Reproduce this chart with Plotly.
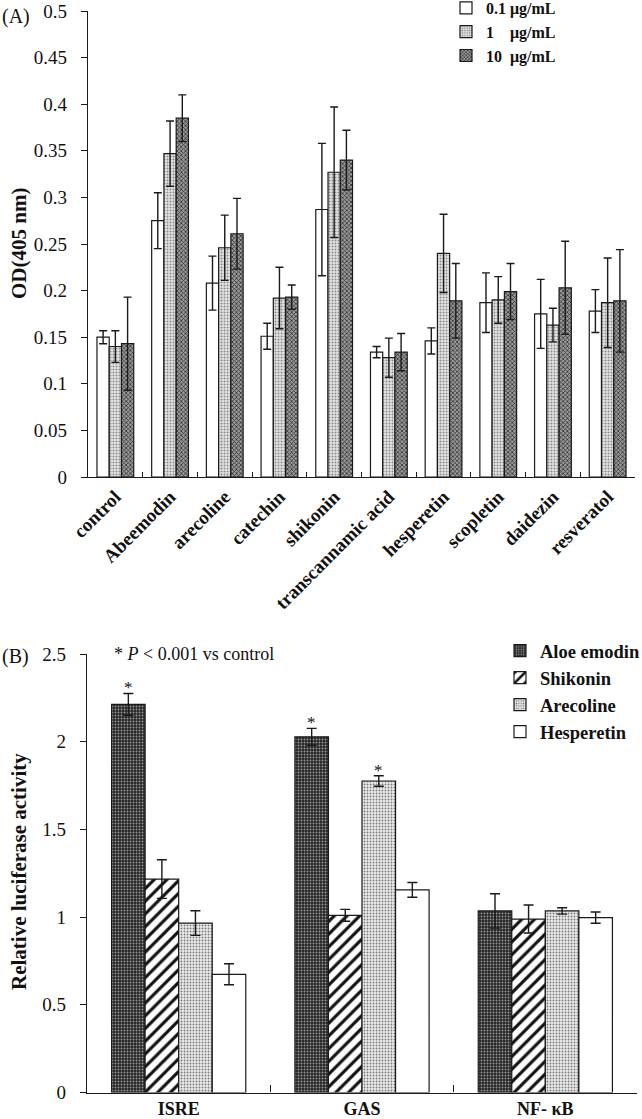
import plotly.graph_objects as go

# ---------------- Panel A data ----------------
categories_a = ["control", "Abeemodin", "arecoline", "catechin", "shikonin",
                "transcannamic acid", "hesperetin", "scopletin", "daidezin", "resveratol"]
dose_names = ["0.1 μg/mL", "1    μg/mL", "10  μg/mL"]
od_01 = [0.150, 0.275, 0.208, 0.151, 0.287, 0.134, 0.146, 0.187, 0.175, 0.178]
err_01 = [0.007, 0.030, 0.029, 0.014, 0.071, 0.006, 0.014, 0.032, 0.037, 0.023]
od_1 = [0.140, 0.347, 0.246, 0.192, 0.327, 0.128, 0.240, 0.190, 0.163, 0.187]
err_1 = [0.017, 0.035, 0.035, 0.033, 0.070, 0.021, 0.042, 0.025, 0.018, 0.048]
od_10 = [0.143, 0.385, 0.261, 0.193, 0.340, 0.134, 0.189, 0.199, 0.203, 0.189]
err_10 = [0.050, 0.025, 0.038, 0.013, 0.032, 0.020, 0.040, 0.030, 0.050, 0.055]

# ---------------- Panel B data ----------------
categories_b = ["ISRE", "GAS", "NF- κB"]
compound_names = ["Aloe emodin", "Shikonin", "Arecoline", "Hesperetin"]
luc_aloe = [2.213, 2.028, 1.035]
err_aloe = [0.062, 0.048, 0.098]
luc_shik = [1.217, 1.010, 0.989]
err_shik = [0.110, 0.034, 0.080]
luc_arec = [0.966, 1.776, 1.035]
err_arec = [0.070, 0.030, 0.018]
luc_hesp = [0.674, 1.155, 0.997]
err_hesp = [0.060, 0.042, 0.032]
# significant marks: (category index, compound index)
sig_marks = [(0, 0), (1, 0), (1, 2)]

W, H = 642, 1119
FONT = "Liberation Serif"
LINE = "#1a1a1a"


def px_x(p):
    return p / W


def px_y(p):
    return 1 - p / H


fig = go.Figure()

# ---- Panel A bars ----
a_vals = [od_01, od_1, od_10]
a_errs = [err_01, err_1, err_10]
a_styles = [
    dict(color="white"),
    dict(color="#d6d6d6", pattern=dict(shape=".", fgcolor="#8a8a8a", bgcolor="#e4e4e4", size=3, solidity=0.35)),
    dict(color="#5e5e5e", pattern=dict(shape="x", fgcolor="#2e2e2e", bgcolor="#9a9a9a", size=3, solidity=0.45)),
]
wa = 0.224
offs_a = [-1.5 * wa, -0.5 * wa, 0.5 * wa]
for i in range(3):
    m = dict(a_styles[i])
    m["line"] = dict(color=LINE, width=1.2)
    fig.add_trace(go.Bar(
        x=categories_a, y=a_vals[i], name=dose_names[i],
        xaxis="x", yaxis="y", width=wa, offset=offs_a[i],
        marker=m, legend="legend",
        error_y=dict(type="data", array=a_errs[i], visible=True,
                     color=LINE, thickness=1.4, width=4),
    ))

# ---- Panel B bars ----
b_vals = [luc_aloe, luc_shik, luc_arec, luc_hesp]
b_errs = [err_aloe, err_shik, err_arec, err_hesp]
b_styles = [
    dict(color="#2a2a2a", pattern=dict(shape=".", fgcolor="#9a9a9a", bgcolor="#262626", size=3, solidity=0.3)),
    dict(color="white", pattern=dict(shape="/", fgcolor="#111111", bgcolor="white", size=9, solidity=0.35)),
    dict(color="#d8d8d8", pattern=dict(shape=".", fgcolor="#7a7a7a", bgcolor="#ebebeb", size=3, solidity=0.3)),
    dict(color="white"),
]
wb = 0.183
offs_b = [-2 * wb, -wb, 0, wb]
for i in range(4):
    m = dict(b_styles[i])
    m["line"] = dict(color=LINE, width=1.2)
    fig.add_trace(go.Bar(
        x=categories_b, y=b_vals[i], name=compound_names[i],
        xaxis="x2", yaxis="y2", width=wb, offset=offs_b[i],
        marker=m, legend="legend2",
        error_y=dict(type="data", array=b_errs[i], visible=True,
                     color=LINE, thickness=1.4, width=5),
    ))

annotations = []
for (g, s) in sig_marks:
    annotations.append(dict(
        x=g + offs_b[s] + wb / 2, y=b_vals[s][g] + b_errs[s][g],
        xref="x2", yref="y2", text="*", showarrow=False,
        yanchor="bottom", yshift=-6,
        font=dict(family=FONT, size=17, color="#111"),
    ))

annotations += [
    dict(x=px_x(0), y=px_y(16), xref="paper", yref="paper", text="(A)",
         showarrow=False, xanchor="left", yanchor="middle",
         font=dict(family=FONT, size=20, color="#111")),
    dict(x=px_x(0), y=px_y(656), xref="paper", yref="paper", text="(B)",
         showarrow=False, xanchor="left", yanchor="middle",
         font=dict(family=FONT, size=20, color="#111")),
    dict(x=px_x(112), y=px_y(654), xref="paper", yref="paper",
         text="* <i>P</i> &lt; 0.001 vs control",
         showarrow=False, xanchor="left", yanchor="middle",
         font=dict(family=FONT, size=18, color="#111")),
    dict(x=px_x(19), y=px_y(244), xref="paper", yref="paper",
         text="<b>OD(405 nm)</b>", textangle=-90,
         showarrow=False, xanchor="center", yanchor="middle",
         font=dict(family=FONT, size=21, color="#111")),
    dict(x=px_x(19), y=px_y(872), xref="paper", yref="paper",
         text="<b>Relative luciferase activity</b>", textangle=-90,
         showarrow=False, xanchor="center", yanchor="middle",
         font=dict(family=FONT, size=21, color="#111")),
]

axis_common = dict(showline=True, linecolor=LINE, linewidth=1.4,
                   showgrid=False, zeroline=False, automargin=False)
tickfont = dict(family=FONT, size=19, color="#111")

fig.update_layout(
    template="none",
    width=W, height=H,
    margin=dict(l=0, r=0, t=0, b=0, autoexpand=False),
    paper_bgcolor="white", plot_bgcolor="white",
    barmode="overlay",
    annotations=annotations,
    xaxis=dict(**axis_common, domain=[px_x(88), px_x(635)], anchor="y",
               type="category", tickson="boundaries", ticks="inside",
               ticklen=5, tickwidth=1.2, tickcolor=LINE, tickangle=-45,
               tickfont=dict(family=FONT, size=19, color="#111", weight="bold")),
    yaxis=dict(**axis_common, domain=[px_y(477), px_y(11)], anchor="x",
               range=[0, 0.5], tick0=0, dtick=0.05, ticks="outside",
               ticklen=6, tickwidth=1.2, tickcolor=LINE, tickfont=tickfont,
               ticklabelstandoff=10),
    xaxis2=dict(**axis_common, domain=[px_x(87), px_x(637)], anchor="y2",
                type="category", tickson="boundaries", ticks="inside",
                ticklen=7, tickwidth=1.2, tickcolor=LINE,
                tickfont=dict(family=FONT, size=18, color="#111", weight="bold")),
    yaxis2=dict(**axis_common, domain=[px_y(1092.5), px_y(654)], anchor="x2",
                range=[0, 2.5], tick0=0, dtick=0.5, ticks="outside",
                ticklen=6, tickwidth=1.2, tickcolor=LINE, tickfont=tickfont,
                ticklabelstandoff=10),
    legend=dict(x=px_x(446), y=1 + 9 / H, xanchor="left", yanchor="top",
                bgcolor="rgba(0,0,0,0)", traceorder="normal", borderwidth=0,
                font=dict(family=FONT, size=16, color="#111", weight="bold")),
    legend2=dict(x=px_x(500), y=px_y(632), xanchor="left", yanchor="top",
                 bgcolor="rgba(0,0,0,0)", traceorder="normal", borderwidth=0,
                 font=dict(family=FONT, size=18.5, color="#111", weight="bold")),
    showlegend=True,
)

fig.write_html("out.html", config={"displayModeBar": False},
               post_script="document.body.style.margin='0px';document.body.style.overflow='hidden';")
